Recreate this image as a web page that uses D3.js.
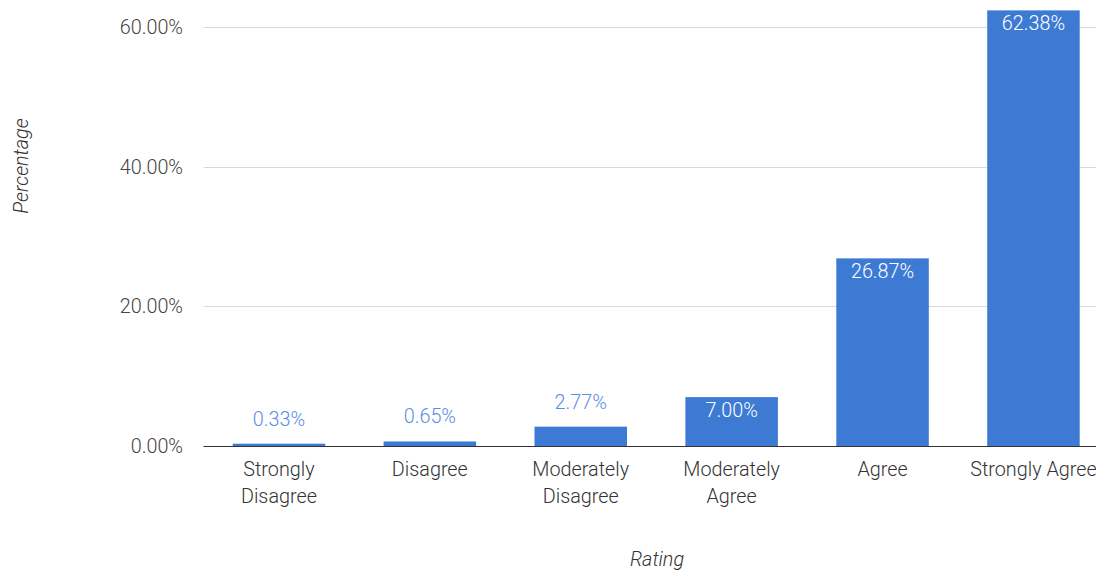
<!DOCTYPE html>
<html>
<head>
<meta charset="utf-8">
<script src="https://cdn.jsdelivr.net/npm/d3@7"></script>
<style>
  body { margin: 0; background: #fff; }
  svg { display: block; font-family: Roboto, Arial, sans-serif; font-weight: 300; }
</style>
</head>
<body>
<svg id="chart" width="1096" height="571"></svg>
<script>
// data
const categories = ['Strongly Disagree', 'Disagree', 'Moderately Disagree', 'Moderately Agree', 'Agree', 'Strongly Agree']
const percentages = [0.33, 0.65, 2.77, 7.00, 26.87, 62.38]
const yTicks = [0, 20, 40, 60]
const xTitle = 'Rating'
const yTitle = 'Percentage'

const svg = d3.select('#chart')
const plotLeft = 203.5
const step = 150.9
const baseline = 446
const plotTop = 27
const fontSize = 19.8

const x = d3.scaleBand()
  .domain(categories)
  .range([plotLeft, plotLeft + step * categories.length])
  .paddingInner(0.387)
  .paddingOuter(0.1935)

const y = d3.scaleLinear()
  .domain([0, 60])
  .range([baseline, plotTop])

// gridlines
svg.append('g')
  .selectAll('line')
  .data(yTicks.filter(t => t > 0))
  .enter()
  .append('line')
  .attr('x1', plotLeft)
  .attr('x2', 1096)
  .attr('y1', d => Math.round(y(d)) + 0.5)
  .attr('y2', d => Math.round(y(d)) + 0.5)
  .attr('stroke', '#d9d9d9')
  .attr('stroke-width', 1)

// y tick labels
svg.append('g')
  .selectAll('text')
  .data(yTicks)
  .enter()
  .append('text')
  .attr('x', 183)
  .attr('y', d => y(d) + 7)
  .attr('text-anchor', 'end')
  .attr('font-size', fontSize)
  .attr('fill', '#444')
  .text(d => d.toFixed(2) + '%')

// bars
svg.append('g')
  .selectAll('rect')
  .data(percentages)
  .enter()
  .append('rect')
  .attr('x', (d, i) => x(categories[i]))
  .attr('width', x.bandwidth())
  .attr('y', d => y(d))
  .attr('height', d => baseline - y(d))
  .attr('fill', '#3d7ad4')

// value labels: inside the bar when it's tall enough, above otherwise
svg.append('g')
  .selectAll('text')
  .data(percentages)
  .enter()
  .append('text')
  .attr('x', (d, i) => x(categories[i]) + x.bandwidth() / 2)
  .attr('y', d => (baseline - y(d) > 30) ? y(d) + 20 : y(d) - 18)
  .attr('text-anchor', 'middle')
  .attr('font-size', fontSize)
  .attr('fill', d => (baseline - y(d) > 30) ? '#ffffff' : '#5b8de2')
  .text(d => d.toFixed(2) + '%')

// baseline
svg.append('line')
  .attr('x1', plotLeft)
  .attr('x2', 1096)
  .attr('y1', baseline + 0.5)
  .attr('y2', baseline + 0.5)
  .attr('stroke', '#333')
  .attr('stroke-width', 1)

// category labels, wrapped
let catLabels = svg.append('g')
  .selectAll('text')
  .data(categories)
  .enter()
  .append('text')
  .attr('x', d => x(d) + x.bandwidth() / 2)
  .attr('y', 476)
  .attr('text-anchor', 'middle')
  .attr('font-size', fontSize)
  .attr('fill', '#333')

catLabels.each(function (d) {
  let el = d3.select(this)
  el.text(d)
  if (this.getComputedTextLength() <= 140) return
  el.text(null)
  d.split(' ').forEach((word, i) => {
    el.append('tspan')
      .attr('x', x(d) + x.bandwidth() / 2)
      .attr('dy', i === 0 ? 0 : 27)
      .text(word)
  })
})

// axis titles
svg.append('text')
  .attr('x', 657)
  .attr('y', 566)
  .attr('text-anchor', 'middle')
  .attr('font-size', fontSize)
  .attr('font-style', 'italic')
  .attr('fill', '#333')
  .text(xTitle)

svg.append('text')
  .attr('transform', 'translate(28,166) rotate(-90)')
  .attr('text-anchor', 'middle')
  .attr('font-size', fontSize)
  .attr('font-style', 'italic')
  .attr('fill', '#333')
  .text(yTitle)
</script>
</body>
</html>
